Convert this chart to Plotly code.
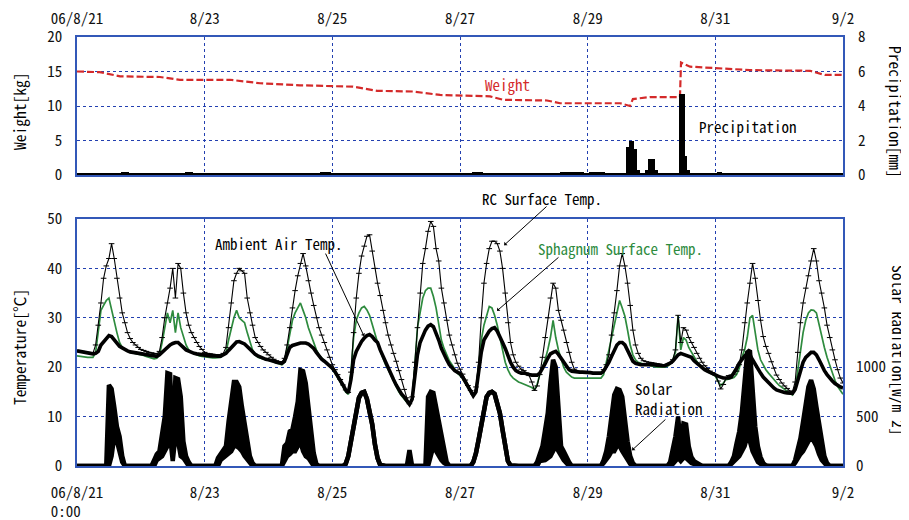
import plotly.graph_objects as go

# ---------------- axis labels ----------------
TICK_HOURS = [0, 48, 96, 144, 192, 240, 288]
TOP_TICK_LABELS = ["06/8/21", "8/23", "8/25", "8/27", "8/29", "8/31", "9/2"]
BOTTOM_TICK_LABELS = ["06/8/21<br>0:00\u00a0\u00a0\u00a0", "8/23", "8/25", "8/27", "8/29", "8/31", "9/2"]

# ---------------- hourly temperatures (8/21 0:00 .. 9/2 0:00) ----------------
AIR_TEMP = [
    23.3, 23.2, 23.1, 23.0, 22.9, 22.8, 22.7, 22.8, 23.2, 24.5, 25.2, 25.9, 26.4, 26.2, 25.5, 24.9, 24.2, 23.9, 23.5, 23.3, 23.1, 23.0, 22.9, 22.9,
    22.8, 22.7, 22.6, 22.5, 22.4, 22.3, 22.2, 22.5, 23.0, 23.6, 24.2, 24.5, 24.8, 25.0, 25.0, 24.6, 24.0, 23.5, 23.2, 23.0, 22.8, 22.7, 22.6, 22.5,
    22.5, 22.4, 22.3, 22.3, 22.2, 22.2, 22.2, 22.5, 22.8, 23.4, 24.0, 24.6, 25.1, 25.2, 25.0, 24.7, 24.2, 23.6, 23.0, 22.6, 22.3, 22.0, 21.8, 21.6,
    21.5, 21.4, 21.2, 21.0, 20.9, 20.8, 21.2, 22.5, 24.0, 24.4, 24.6, 24.8, 24.9, 24.9, 24.9, 24.7, 24.3, 23.8, 23.0, 22.2, 21.6, 21.2, 20.8, 20.4,
    19.8, 19.1, 18.3, 17.4, 16.4, 15.4, 14.8, 17.5, 21.5, 23.2, 24.3, 25.2, 25.9, 26.4, 26.6, 26.2, 25.5, 25.0, 23.5, 22.3, 21.0, 19.5, 18.5, 17.5,
    16.4, 15.3, 14.6, 14.0, 13.2, 12.5, 13.5, 18.0, 22.5, 25.0, 26.5, 27.5, 28.3, 28.6, 28.2, 27.0, 25.5, 23.8, 22.5, 21.5, 20.5, 19.8, 19.3, 19.0,
    18.7, 18.0, 17.0, 16.0, 15.0, 14.2, 15.0, 19.0, 23.0, 25.5, 26.5, 27.3, 27.8, 28.0, 27.3, 26.3, 25.0, 23.8, 22.3, 21.0, 20.0, 19.3, 19.0, 18.8,
    18.8, 18.6, 18.5, 18.4, 18.4, 18.4, 18.8, 19.6, 20.7, 21.8, 22.7, 23.0, 23.2, 22.6, 21.8, 20.8, 20.0, 19.5, 19.2, 19.1, 19.0, 19.0, 19.0, 19.0,
    19.0, 18.9, 18.8, 18.8, 18.8, 18.8, 19.2, 20.0, 21.0, 22.2, 23.5, 24.5, 25.0, 25.0, 24.5, 23.3, 22.0, 21.2, 20.8, 20.6, 20.5, 20.5, 20.5, 20.5,
    20.6, 20.5, 20.4, 20.3, 20.3, 20.3, 20.5, 20.8, 21.2, 21.8, 22.5, 22.8, 22.6, 22.5, 22.3, 22.0, 21.3, 20.8, 20.3, 19.8, 19.5, 19.2, 18.9, 18.6,
    18.4, 18.2, 18.0, 17.8, 17.8, 17.8, 18.0, 18.8, 19.8, 20.8, 21.6, 22.3, 22.8, 22.5, 21.5, 20.5, 19.6, 18.8, 18.0, 17.4, 16.8, 16.3, 15.8, 15.4,
    15.2, 15.0, 14.9, 14.8, 14.7, 14.7, 15.5, 17.5, 19.5, 21.0, 22.0, 22.6, 23.0, 23.0, 22.5, 21.5, 20.3, 19.3, 18.5, 17.8, 17.2, 16.7, 16.3, 16.0,
    15.8,
]

RC_TEMP = [
    23.4, 23.3, 23.2, 23.1, 23.0, 22.9, 22.8, 24.5, 28.5, 33.0, 38.0, 40.5, 42.0, 45.0, 42.0, 38.0, 34.0, 31.0, 29.0, 27.0, 25.8, 25.0, 24.5, 24.0,
    23.6, 23.4, 23.2, 23.0, 22.9, 22.8, 22.7, 23.2, 26.0, 30.0, 33.0, 36.0, 40.0, 34.0, 41.0, 40.0, 35.0, 31.0, 28.5, 27.0, 26.0, 25.0, 24.2, 23.6,
    23.0, 22.8, 22.7, 22.6, 22.5, 22.5, 22.5, 22.8, 24.0, 28.0, 33.0, 37.5, 39.0, 40.0, 39.5, 39.0, 34.0, 31.0, 28.5, 26.0, 25.0, 24.2, 23.5, 23.0,
    22.5, 22.0, 21.6, 21.3, 21.1, 21.0, 21.8, 24.5, 28.0, 32.0, 35.5, 38.5, 41.0, 43.0, 40.5, 37.5, 35.0, 32.5, 30.0, 28.0, 26.5, 25.0, 23.5, 22.0,
    20.5, 19.5, 18.5, 17.5, 16.4, 15.4, 14.9, 19.0, 27.0, 34.0, 39.0, 42.5, 44.5, 46.5, 46.8, 43.5, 40.0, 37.0, 34.5, 31.5, 29.0, 26.5, 24.5, 22.8,
    21.2, 19.3, 17.5, 15.5, 13.8, 12.6, 14.0, 21.0, 28.0, 35.0, 41.0, 44.0, 47.5, 49.5, 48.5, 44.0, 41.5, 36.0, 33.0, 29.5, 26.5, 24.5, 22.5, 20.8,
    19.6, 18.6, 17.4, 16.3, 15.3, 14.5, 16.0, 21.0, 30.0, 37.0, 41.0, 44.0, 45.5, 45.5, 45.0, 43.5, 40.0, 35.0, 29.0, 25.0, 22.5, 21.0, 20.2, 19.6,
    19.3, 18.8, 18.3, 17.0, 15.3, 16.2, 18.5, 22.0, 26.0, 30.0, 34.0, 37.0, 36.0, 31.5, 29.5, 27.5, 25.0, 23.0, 21.0, 19.6, 19.2, 19.0, 19.0, 19.0,
    19.0, 18.9, 18.8, 18.8, 18.8, 18.8, 19.5, 20.5, 22.5, 26.5, 31.0, 35.5, 40.5, 43.0, 40.5, 37.0, 32.5, 27.5, 24.5, 22.8, 21.8, 21.3, 21.1, 21.0,
    20.9, 20.8, 20.7, 20.6, 20.5, 20.5, 20.6, 20.8, 21.5, 23.5, 30.5, 25.0, 28.0, 27.5, 26.0, 25.0, 24.0, 22.8, 21.8, 21.0, 20.3, 19.7, 19.2, 18.9,
    18.5, 17.2, 15.6, 16.5, 17.8, 18.3, 18.4, 18.6, 19.2, 20.5, 23.5, 29.0, 33.0, 37.0, 41.0, 38.0, 33.5, 29.5, 26.2, 24.2, 22.8, 21.1, 19.8, 18.4,
    17.5, 16.8, 16.2, 15.7, 15.2, 15.0, 17.0, 23.0, 29.0, 33.0, 36.0, 38.5, 41.5, 44.0, 41.5, 37.5, 35.0, 32.0, 28.5, 26.0, 23.5, 21.5, 19.5, 17.8,
    16.8,
]

SPHAGNUM_TEMP = [
    22.3, 22.2, 22.1, 22.0, 22.0, 22.0, 22.0, 23.0, 27.0, 31.5, 32.5, 33.5, 34.0, 31.5, 29.0, 27.0, 25.0, 24.0, 23.5, 23.2, 23.0, 22.9, 22.8, 22.7,
    22.6, 22.4, 22.2, 22.0, 21.8, 21.7, 21.8, 22.5, 25.0, 28.0, 31.0, 29.0, 31.5, 27.0, 31.0, 28.0, 26.0, 24.5, 23.5, 23.0, 22.8, 22.5, 22.3, 22.2,
    22.1, 22.0, 22.0, 21.9, 21.9, 21.9, 22.0, 22.5, 23.0, 25.5, 28.0, 30.0, 31.5, 30.0, 29.5, 29.0, 27.0, 25.0, 23.5, 22.5, 22.0, 21.8, 21.6, 21.5,
    21.4, 21.2, 21.0, 20.8, 20.6, 20.5, 21.0, 24.0, 27.0, 29.5, 31.0, 32.0, 33.0, 31.5, 30.0, 28.0, 26.5, 25.0, 23.5, 22.5, 21.8, 21.3, 20.9, 20.3,
    19.6, 18.8, 18.0, 17.0, 16.0, 15.0, 14.5, 19.0, 26.0, 29.5, 31.0, 32.0, 32.3, 31.6, 30.5, 28.5, 27.0, 25.0, 23.3, 21.8, 20.5, 19.5, 18.3, 17.2,
    16.0, 15.0, 14.2, 13.5, 12.9, 12.4, 13.5, 20.0, 28.0, 31.0, 34.0, 35.5, 36.0, 36.0, 34.3, 32.0, 28.5, 25.5, 23.8, 22.5, 21.3, 20.5, 19.5, 18.8,
    18.3, 17.7, 16.8, 15.8, 14.9, 14.0, 15.0, 21.0, 25.5, 28.5, 30.5, 32.3, 32.0, 30.5, 28.5, 26.2, 23.5, 21.0, 19.5, 18.4, 17.8, 17.3, 17.0, 16.8,
    16.6, 16.4, 16.2, 15.9, 15.5, 16.5, 18.5, 20.0, 21.5, 23.5, 26.0, 29.5, 26.0, 23.5, 21.5, 20.0, 19.0, 18.4, 18.0, 17.8, 17.8, 17.8, 17.8, 17.9,
    17.9, 17.9, 17.8, 17.8, 17.8, 17.8, 18.5, 21.0, 23.5, 26.0, 28.5, 31.0, 33.5, 32.0, 30.3, 27.5, 24.5, 22.5, 21.5, 21.0, 20.8, 20.6, 20.5, 20.4,
    20.2, 20.1, 20.0, 20.0, 20.0, 20.0, 20.2, 20.6, 21.5, 23.0, 30.5, 23.5, 26.0, 25.5, 24.0, 23.0, 22.0, 21.2, 20.6, 20.0, 19.5, 19.1, 18.8, 18.4,
    18.2, 17.2, 16.3, 16.8, 17.5, 17.6, 17.7, 17.9, 18.5, 19.8, 22.0, 23.5, 26.0, 30.0, 30.5, 26.5, 23.5, 21.5, 20.4, 19.5, 18.8, 18.1, 17.5, 16.9,
    16.3, 15.9, 15.5, 15.1, 14.7, 14.4, 15.5, 19.0, 22.5, 27.0, 29.5, 31.0, 31.6, 31.5, 31.0, 28.5, 26.0, 24.0, 22.0, 20.3, 18.6, 17.3, 16.1, 15.2,
    14.5,
]

# ---------------- solar radiation [W/m2], daytime hours 4:00..20:00 of each day ----------------
RAD_FIRST_HOUR = 4
RAD_HIGH = [
    [0, 0, 0, 0, 0, 0, 0, 0, 820, 780, 600, 400, 300, 100, 0, 0, 0],
    [0, 60, 120, 150, 300, 500, 940, 930, 250, 890, 880, 700, 250, 100, 40, 0, 0],
    [0, 80, 120, 150, 200, 450, 700, 850, 850, 800, 600, 450, 250, 100, 30, 0, 0],
    [0, 0, 200, 230, 350, 370, 500, 650, 970, 960, 840, 570, 300, 130, 20, 0, 0],
    [0, 20, 100, 250, 400, 590, 690, 740, 750, 680, 570, 420, 220, 80, 10, 0, 0],
    [0, 160, 0, 0, 0, 0, 0, 0, 700, 750, 740, 600, 450, 300, 150, 40, 0],
    [0, 40, 130, 265, 430, 600, 700, 740, 750, 730, 650, 535, 365, 195, 50, 5, 0],
    [0, 40, 130, 200, 365, 535, 840, 1075, 1000, 500, 200, 150, 90, 40, 0, 0, 0],
    [0, 0, 60, 150, 300, 480, 720, 780, 770, 700, 430, 250, 100, 30, 0, 0, 0],
    [0, 0, 0, 40, 150, 300, 500, 200, 430, 420, 200, 90, 50, 30, 10, 0, 0],
    [0, 0, 40, 100, 230, 350, 550, 900, 1150, 1170, 700, 400, 200, 90, 30, 5, 0],
    [0, 0, 60, 160, 280, 450, 650, 800, 870, 780, 600, 430, 250, 100, 30, 0, 0],
]
RAD_LOW = [
    [0, 0, 0, 0, 0, 0, 0, 0, 0, 100, 300, 250, 120, 40, 0, 0, 0],
    [0, 0, 60, 80, 100, 150, 200, 300, 50, 300, 250, 100, 80, 40, 0, 0, 0],
    [0, 0, 60, 80, 100, 120, 150, 200, 200, 180, 150, 100, 60, 30, 0, 0, 0],
    [0, 0, 50, 100, 120, 150, 150, 200, 250, 150, 100, 80, 40, 0, 0, 0, 0],
    [0, 20, 100, 250, 400, 590, 690, 740, 750, 680, 570, 420, 220, 80, 10, 0, 0],
    [0, 0, 0, 0, 0, 0, 0, 0, 0, 100, 200, 150, 100, 60, 30, 10, 0],
    [0, 40, 130, 265, 430, 600, 700, 740, 750, 730, 650, 535, 365, 195, 50, 5, 0],
    [0, 0, 50, 50, 60, 80, 100, 150, 200, 150, 100, 60, 30, 0, 0, 0, 0],
    [0, 0, 30, 60, 100, 150, 150, 200, 200, 150, 100, 50, 20, 0, 0, 0, 0],
    [0, 0, 0, 0, 20, 50, 80, 50, 80, 80, 50, 30, 20, 10, 0, 0, 0],
    [0, 0, 20, 50, 80, 100, 150, 200, 300, 250, 150, 80, 40, 20, 0, 0, 0],
    [0, 0, 30, 80, 120, 150, 200, 250, 300, 250, 200, 120, 60, 30, 0, 0, 0],
]

# ---------------- weight [kg] ----------------
WEIGHT_HOURS = [0, 8.6, 16.2, 31.2, 38.7, 57.5, 68.8, 83.8, 103.8, 112.8, 126.3, 136.5, 155.3, 160.2,
                176.7, 181.6, 204.2, 207.9, 209.0, 215.4, 226.7, 227.1, 230.5, 253.0, 275.6, 281.2, 288.0]
WEIGHT_KG = [15.0, 14.9, 14.3, 14.2, 13.8, 13.8, 13.3, 13.0, 12.8, 12.2, 12.1, 11.6, 11.4, 10.9,
             10.8, 10.4, 10.4, 10.0, 11.0, 11.3, 11.3, 16.3, 15.7, 15.2, 15.1, 14.5, 14.5]

# ---------------- precipitation [mm], hourly ----------------
PRECIP_HOURS = [17, 18, 19, 41, 42, 43, 92, 93, 94, 95, 149, 150, 151, 152,
                182, 183, 184, 185, 186, 187, 188, 189, 190, 193, 194, 195, 196, 197, 198,
                207, 208, 209, 210, 211, 214, 215, 216, 217, 218, 227, 228, 229, 230, 241, 242]
PRECIP_MM = [0.2, 0.2, 0.2, 0.2, 0.2, 0.2, 0.2, 0.2, 0.2, 0.2, 0.2, 0.2, 0.2, 0.2,
             0.2, 0.2, 0.2, 0.2, 0.2, 0.2, 0.2, 0.2, 0.2, 0.2, 0.2, 0.2, 0.2, 0.2, 0.2,
             1.6, 2.0, 2.0, 1.5, 0.3, 0.3, 0.9, 0.9, 0.9, 0.3, 4.7, 4.7, 1.1, 0.3, 0.2, 0.2]

# ---------------- build series ----------------
N = len(AIR_TEMP)
HOURS = list(range(N))


def daytime_to_full(day_lists):
    out = [0.0] * N
    for d, vals in enumerate(day_lists):
        for i, v in enumerate(vals):
            idx = d * 24 + RAD_FIRST_HOUR + i
            if idx < N:
                out[idx] = v
    return out


rad_hi = daytime_to_full(RAD_HIGH)
rad_lo = daytime_to_full(RAD_LOW)

MONO = "'Noto Sans Mono CJK JP', 'Noto Sans CJK JP', 'DejaVu Sans Mono', monospace"
GRID = "#2340b0"
BORDER = "#3358b8"
GREEN = "#2e8b3e"
RED = "#d42a2a"
TICKFONT = dict(family=MONO, size=15, color="#111")

fig = go.Figure()

# top panel
fig.add_trace(go.Bar(x=PRECIP_HOURS, y=PRECIP_MM, xaxis="x2", yaxis="y4", width=1.0,
                     marker=dict(color="black", line=dict(width=0)), name="Precipitation"))
fig.add_trace(go.Scatter(x=WEIGHT_HOURS, y=WEIGHT_KG, xaxis="x2", yaxis="y3", mode="lines",
                         line=dict(color=RED, width=2.2, dash="7px,3px"), name="Weight"))

# bottom panel temperatures
fig.add_trace(go.Scatter(x=HOURS, y=SPHAGNUM_TEMP, mode="lines", line=dict(color=GREEN, width=1.7),
                         name="Sphagnum Surface Temp."))
fig.add_trace(go.Scatter(x=HOURS, y=RC_TEMP, mode="lines+markers", line=dict(color="black", width=1.1),
                         marker=dict(symbol="line-ew", size=4, line=dict(width=1, color="black")),
                         name="RC Surface Temp."))
fig.add_trace(go.Scatter(x=HOURS, y=AIR_TEMP, mode="lines", line=dict(color="black", width=3.6),
                         name="Ambient Air Temp."))

# solar radiation
fig.add_trace(go.Scatter(x=HOURS, y=rad_lo, yaxis="y2", mode="lines",
                         line=dict(color="black", width=4.5), name="Solar Radiation"))
fig.add_trace(go.Scatter(x=HOURS, y=rad_hi, yaxis="y2", mode="lines", fill="tonexty",
                         fillcolor="black", line=dict(color="black", width=4.5), name="Solar Radiation max"))

common_x = dict(range=[0, 288], tickvals=TICK_HOURS, showgrid=True, gridcolor=GRID, griddash="dot",
                gridwidth=1.3, showline=True, linecolor=BORDER, linewidth=1.5, mirror=True,
                ticks="", zeroline=False, tickfont=TICKFONT, automargin=False)
common_y = dict(showgrid=True, gridcolor=GRID, griddash="dot", gridwidth=1.3, showline=True,
                linecolor=BORDER, linewidth=1.5, mirror=True, ticks="", zeroline=False,
                tickfont=TICKFONT, ticklabelstandoff=10, automargin=False)
right_y = dict(showgrid=False, showline=False, ticks="", zeroline=False, tickfont=TICKFONT, automargin=False)

# page body has an 8px margin: figure is 901x512 placed at (8, 8)
fig.update_layout(
    width=901, height=512,
    margin=dict(l=69, r=66, t=29, b=54, autoexpand=False),
    plot_bgcolor="white", paper_bgcolor="white",
    showlegend=False,
    bargap=0,
    xaxis=dict(domain=[0, 1], anchor="y", ticktext=BOTTOM_TICK_LABELS, ticklabelstandoff=12, **common_x),
    xaxis2=dict(domain=[0, 1], anchor="y3", side="top", ticktext=TOP_TICK_LABELS, ticklabelstandoff=5, **common_x),
    yaxis=dict(domain=[0, 0.5758], anchor="x", range=[0, 50], dtick=10, **common_y),
    yaxis2=dict(overlaying="y", anchor="x", side="right", range=[0, 2500], tickvals=[0, 500, 1000],
                ticklabelstandoff=12, **right_y),
    yaxis3=dict(domain=[0.6783, 1], anchor="x2", range=[0, 20], dtick=5, **common_y),
    yaxis4=dict(overlaying="y3", anchor="x2", side="right", range=[0, 8], dtick=2,
                ticklabelstandoff=14, **right_y),
)

fig.add_shape(type="line", xref="paper", x0=0, x1=1, yref="y3", y0=0, y1=0,
              line=dict(color="black", width=4), layer="above")

TXT = dict(family=MONO, size=15, color="black")
TITLE = dict(family=MONO, size=15.5, color="black")
P = dict(xref="paper", yref="paper", showarrow=False, xanchor="center", yanchor="middle")
annotations = [
    dict(text="Weight[kg]", x=-0.0757, y=0.8275, textangle=-90, font=TITLE, **P),
    dict(text="Temperature[℃]", x=-0.0757, y=0.2774, textangle=-90, font=TITLE, **P),
    dict(text="Precipitation[mm]", x=1.0692, y=0.8252, textangle=90, font=TITLE, **P),
    dict(text="Solar Radiation[W/m 2]", x=1.0731, y=0.2680, textangle=90, font=TITLE, **P),
    dict(text="Weight", x=0.5614, y=0.8904, font=dict(family=MONO, size=15, color=RED), **P),
    dict(text="RC Surface Temp.", x=0.6070, y=0.6224, font=TXT, **P),
    dict(text="Ambient Air Temp.", x=0.2637, y=0.5175, font=TXT, **P),
    dict(text="Sphagnum Surface Temp.", x=0.7089, y=0.5070, font=dict(family=MONO, size=15, color=GREEN), **P),
]
annotations.append(dict(text="Precipitation", xref="paper", yref="paper", x=0.8094, y=0.7925,
                        xanchor="left", yanchor="middle", showarrow=False, font=TXT))
annotations.append(dict(text="Solar<br>Radiation", xref="paper", yref="paper", x=0.7258, y=0.1585,
                        xanchor="left", yanchor="middle", align="left", showarrow=False, font=TXT))
ARROWS = [
    (107.9, 26.3, 93.2, 43.3),
    (160.6, 44.7, 177.1, 52.8),
    (157.9, 31.4, 181.6, 42.5),
    (208.7, 3.2, 221.8, 9.7),
]
for hx, hy, tx, ty in ARROWS:
    annotations.append(dict(text="", xref="x", yref="y", axref="x", ayref="y", x=hx, y=hy, ax=tx, ay=ty,
                            showarrow=True, arrowhead=1, arrowsize=0.8, arrowwidth=1, arrowcolor="black"))
fig.update_layout(annotations=annotations)

fig.write_html("out.html")
